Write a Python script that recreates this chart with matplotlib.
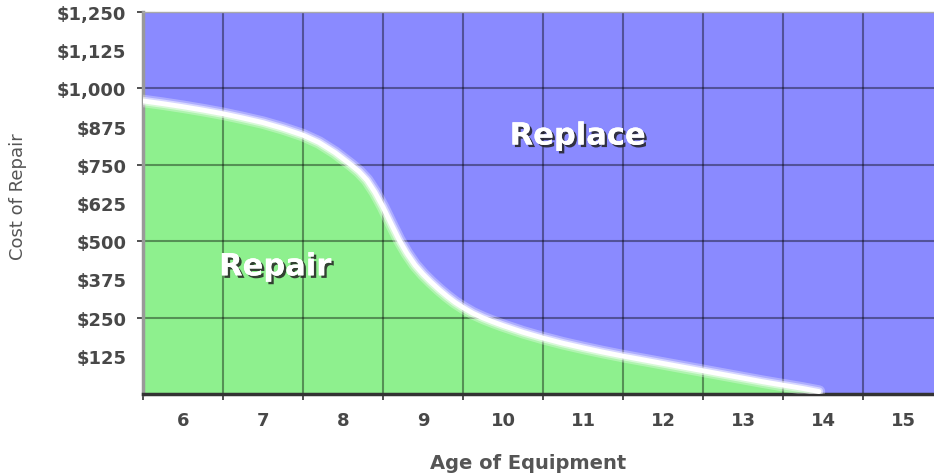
import matplotlib
matplotlib.use("Agg")
import matplotlib.pyplot as plt
import matplotlib.patheffects as pe
from matplotlib.ticker import FixedLocator, FuncFormatter

# categories on the x axis (age of equipment, years)
ages = [6, 7, 8, 9, 10, 11, 12, 13, 14, 15]
cost_ticks = [125, 250, 375, 500, 625, 750, 875, 1000, 1125, 1250]

# repair / replace boundary
boundary_age = [5.5, 5.75, 6.0, 6.25, 6.5, 6.75, 7.0, 7.25, 7.5, 7.7, 7.9, 8.0,
                8.1, 8.2, 8.3, 8.4, 8.5, 8.6, 8.7, 8.8, 8.9, 9.0, 9.1, 9.2, 9.3,
                9.4, 9.5, 9.625, 9.75, 9.875, 10.0, 10.25, 10.5, 10.75, 11.0,
                11.25, 11.5, 11.75, 12.0, 12.25, 12.5, 12.75, 13.0, 13.25, 13.5,
                13.75, 13.95]
boundary_cost = [959, 950, 940, 929, 917, 903, 888, 869, 847, 823, 790, 770,
                 750, 728, 700, 660, 612, 558, 505, 460, 422, 392, 366, 342, 320,
                 300, 283, 264, 249, 236, 224, 202, 183, 166, 151,
                 137, 124, 112, 100, 88, 76, 64, 52, 40, 29,
                 18, 8]

BLUE = '#8a8aff'
GREEN = '#8ef08e'
TEXT = '#484848'

fig = plt.figure(figsize=(9.34, 4.77), dpi=100)
ax = fig.add_axes([143 / 934, 1 - 395 / 477, 800 / 934, 382 / 477])
ax.set_facecolor(BLUE)
ax.set_xlim(5.5, 15.5)
ax.set_ylim(0, 1250)

# repair region
ax.fill_between(boundary_age, boundary_cost, 0, color=GREEN, lw=0, zorder=1)

# glowing white boundary
ax.plot(boundary_age, boundary_cost, color='white', lw=9, alpha=0.3,
        solid_capstyle='round', solid_joinstyle='round', zorder=3)
ax.plot(boundary_age, boundary_cost, color='white', lw=6, alpha=0.5,
        solid_capstyle='round', solid_joinstyle='round', zorder=3)
ax.plot(boundary_age, boundary_cost, color='white', lw=3.5,
        solid_capstyle='round', solid_joinstyle='round', zorder=3)

# ticks and grid
ax.xaxis.set_major_locator(FixedLocator(ages))
ax.xaxis.set_minor_locator(FixedLocator([a - 0.5 for a in ages] + [ages[-1] + 0.5]))
ax.yaxis.set_major_locator(FixedLocator(cost_ticks))
ax.yaxis.set_minor_locator(FixedLocator(cost_ticks[1::2]))
ax.yaxis.remove_overlapping_locs = False
ax.yaxis.set_major_formatter(FuncFormatter(lambda v, p: f"${v:,.0f}"))
ax.tick_params(which='major', length=0, labelsize=13, labelcolor=TEXT)
ax.tick_params(axis='x', which='major', pad=12)
ax.tick_params(axis='y', which='major', pad=12)
ax.tick_params(which='minor', length=4, width=1.2, color='#333333')
for lab in ax.get_xticklabels() + ax.get_yticklabels():
    lab.set_fontweight('bold')

ax.set_axisbelow('line')
ax.grid(which='minor', color='black', alpha=0.4, lw=1.5)
ax.grid(which='major', visible=False)

for side in ['top', 'right']:
    ax.spines[side].set_color('#aaaaaa')
    ax.spines[side].set_linewidth(1)
ax.spines['left'].set_color('#999999')
ax.spines['left'].set_linewidth(2.5)
ax.spines['bottom'].set_color('#333333')
ax.spines['bottom'].set_linewidth(2.5)

ax.set_xlabel('Age of Equipment', fontsize=14, fontweight='bold', color='#555555')
ax.xaxis.set_label_coords(0.481, -0.155)
ax.set_ylabel('Cost of Repair', fontsize=13, color='#555555')
ax.yaxis.set_label_coords(-0.145, 0.52)

shadow = [pe.withSimplePatchShadow(offset=(1.8, -1.8), shadow_rgbFace='#222222', alpha=0.85),
          pe.Normal()]
ax.text(7.15, 416, 'Repair', fontsize=22, fontweight='bold', color='white',
        ha='center', va='center', zorder=4, path_effects=shadow)
ax.text(10.93, 844, 'Replace', fontsize=22, fontweight='bold', color='white',
        ha='center', va='center', zorder=4, path_effects=shadow)

fig.savefig('out.png', dpi=100)
